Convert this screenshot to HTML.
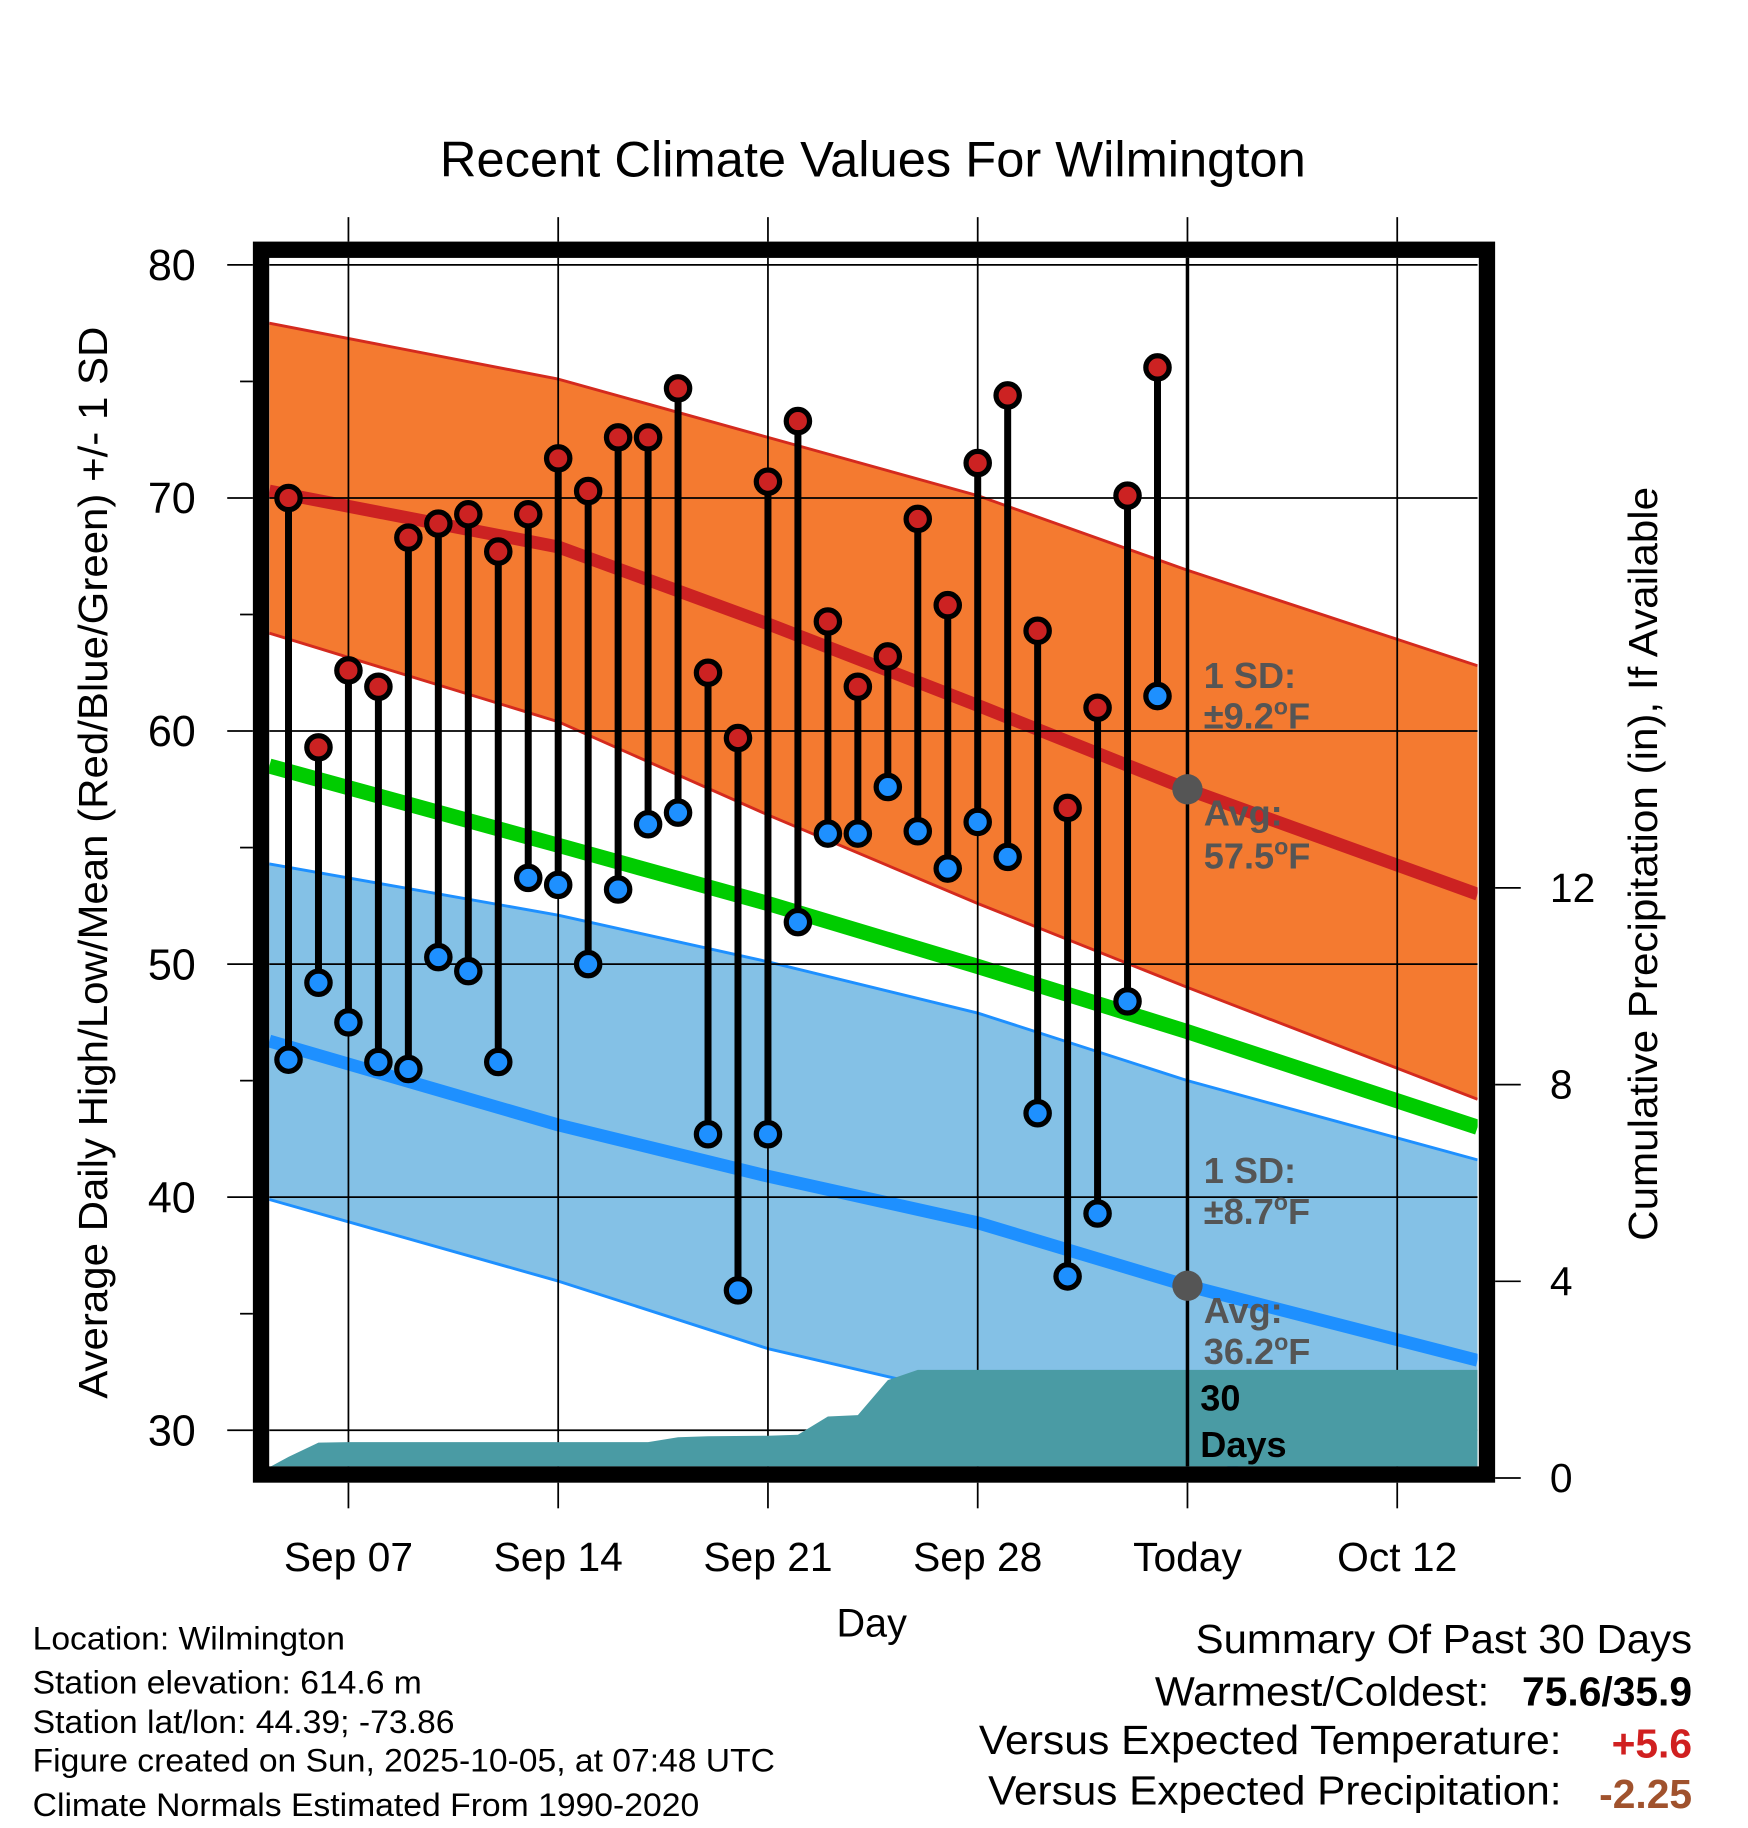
<!DOCTYPE html>
<html><head><meta charset="utf-8"><style>
html,body{margin:0;padding:0;background:#fff;}
svg{display:block;font-family:"Liberation Sans",sans-serif;}
</style></head><body>
<svg id="chart" width="1748" height="1828" viewBox="0 0 1500 1568" xmlns="http://www.w3.org/2000/svg">
<defs><clipPath id="pc"><rect x="231" y="221" width="1037" height="1037"/></clipPath></defs>
<text x="749" y="151" font-size="43" text-anchor="middle" textLength="743" lengthAdjust="spacingAndGlyphs">Recent Climate Values For Wilmington</text>
<g id="plot" clip-path="url(#pc)"></g>
<g id="axes"></g>
<rect x="224" y="214" width="1052" height="1051" fill="none" stroke="#000" stroke-width="14"/>
<g id="marks"></g>
<text transform="translate(92,740) rotate(-90)" font-size="35" text-anchor="middle" textLength="920" lengthAdjust="spacingAndGlyphs">Average Daily High/Low/Mean (Red/Blue/Green) +/- 1 SD</text>
<text transform="translate(1422,741) rotate(-90)" font-size="35" text-anchor="middle" textLength="647" lengthAdjust="spacingAndGlyphs">Cumulative Precipitation (in), If Available</text>
<text x="748" y="1404" font-size="34" text-anchor="middle">Day</text>
<g font-size="31" font-weight="bold" fill="#555">
<text x="1033" y="590">1 SD:</text><text x="1033" y="625">±9.2<tspan font-size="20" dy="-12">o</tspan><tspan dy="12">F</tspan></text>
<text x="1033" y="708">Avg:</text><text x="1033" y="745">57.5<tspan font-size="20" dy="-12">o</tspan><tspan dy="12">F</tspan></text>
</g>
<g font-size="31" font-weight="bold" fill="#555">
<text x="1033" y="1015">1 SD:</text><text x="1033" y="1050">±8.7<tspan font-size="20" dy="-12">o</tspan><tspan dy="12">F</tspan></text>
<text x="1033" y="1135">Avg:</text><text x="1033" y="1170">36.2<tspan font-size="20" dy="-12">o</tspan><tspan dy="12">F</tspan></text>
</g>
<g font-size="31" font-weight="bold" fill="#000">
<text x="1030" y="1210">30</text><text x="1030" y="1250">Days</text>
</g>
<g font-size="28">
<text x="28" y="1415" textLength="268" lengthAdjust="spacingAndGlyphs">Location: Wilmington</text>
<text x="28" y="1453" textLength="334" lengthAdjust="spacingAndGlyphs">Station elevation: 614.6 m</text>
<text x="28" y="1487" textLength="362" lengthAdjust="spacingAndGlyphs">Station lat/lon: 44.39; -73.86</text>
<text x="28" y="1520" textLength="637" lengthAdjust="spacingAndGlyphs">Figure created on Sun, 2025-10-05, at 07:48 UTC</text>
<text x="28" y="1558" textLength="572" lengthAdjust="spacingAndGlyphs">Climate Normals Estimated From 1990-2020</text>
</g>
<g font-size="35">
<text x="1026" y="1418" textLength="426" lengthAdjust="spacingAndGlyphs">Summary Of Past 30 Days</text>
<text x="991" y="1463" textLength="287" lengthAdjust="spacingAndGlyphs">Warmest/Coldest:</text>
<text x="1452" y="1463" text-anchor="end" font-weight="bold">75.6/35.9</text>
<text x="840" y="1505" textLength="500" lengthAdjust="spacingAndGlyphs">Versus Expected Temperature:</text>
<text x="1452" y="1508" text-anchor="end" font-weight="bold" fill="#d02020">+5.6</text>
<text x="848" y="1548" textLength="492" lengthAdjust="spacingAndGlyphs">Versus Expected Precipitation:</text>
<text x="1452" y="1551" text-anchor="end" font-weight="bold" fill="#a0522d">-2.25</text>
</g>
</svg>
<script>
const obsDays=[5,6,7,8,9,10,11,12,13,14,15,16,17,18,19,20,21,22,23,24,25,26,27,28,29,30,31,32,33,34];
const highs=[70.0,59.3,62.6,61.9,68.3,68.9,69.3,67.7,69.3,71.7,70.3,72.6,72.6,74.7,62.5,59.7,70.7,73.3,64.7,61.9,63.2,69.1,65.4,71.5,74.4,64.3,56.7,61.0,70.1,75.6];
const lows=[45.9,49.2,47.5,45.8,45.5,50.3,49.7,45.8,53.7,53.4,50.0,53.2,56.0,56.5,42.7,36.0,42.7,51.8,55.6,55.6,57.6,55.7,54.1,56.1,54.6,43.6,36.6,39.3,48.4,61.5];
const normDays=[4.36,14,21,28,35,44.68];
const highUpper=[77.5,75.1,72.6,70.1,66.9,62.8];
const highMean=[70.3,67.9,64.6,61.1,57.5,53.0];
const highLower=[64.2,60.4,56.4,52.6,49.0,44.2];
const avgMean=[58.5,55.1,52.6,49.9,47.1,43.0];
const lowUpper=[54.3,52.1,50.1,47.9,45.0,41.6];
const lowMean=[46.7,43.1,40.9,38.9,36.2,33.0];
const lowLower=[39.9,36.4,33.5,31.4,29.0,25.5];
const precipDays=[4,5,6,7,17,18,19,21,22,23,24,25,26,44.68];
const precipCum=[0.1,0.43,0.72,0.73,0.73,0.83,0.85,0.86,0.88,1.25,1.28,1.99,2.2,2.2];
const xTickDays=[7,14,21,28,35,42];
const xTickLabels=["Sep 07","Sep 14","Sep 21","Sep 28","Today","Oct 12"];
const yTicks=[30,40,50,60,70,80];
const y2Ticks=[0,4,8,12];
const todayDay=35, todayHigh=57.5, todayLow=36.2;

const NS="http://www.w3.org/2000/svg";
const X=d=>299+(d-7)*25.714;
const Y=v=>227+(80-v)*20;
const YP=p=>1268-p*42.2;
function mk(parent,tag,attrs){const e=document.createElementNS(NS,tag);for(const k in attrs)e.setAttribute(k,attrs[k]);parent.appendChild(e);return e;}
const plot=document.getElementById('plot'),axes=document.getElementById('axes'),marks=document.getElementById('marks');
function band(up,lo,fill,name){let d='M'+normDays.map((t,i)=>X(t)+','+Y(up[i])).join('L');d+='L'+normDays.slice().reverse().map((t,i)=>X(t)+','+Y(lo[lo.length-1-i])).join('L')+'Z';
 const p=mk(plot,'path',{d:d,fill:fill});}
function line(vals,color,w,name){const p=mk(plot,'path',{d:'M'+normDays.map((t,i)=>X(t)+','+Y(vals[i])).join('L'),fill:'none',stroke:color,'stroke-width':w,'stroke-linejoin':'round'});}
band(highUpper,highLower,'#f47a30','high-sd-band');
line(highUpper,'#d42a1e',2.5,'high-sd-upper');line(highLower,'#d42a1e',2.5,'high-sd-lower');
band(lowUpper,lowLower,'#84c1e6','low-sd-band');
line(lowUpper,'#1e90ff',2.5,'low-sd-upper');line(lowLower,'#1e90ff',2.5,'low-sd-lower');
line(highMean,'#cc2222',11,'normal-high-line');
line(avgMean,'#00cc00',13,'normal-mean-line');
line(lowMean,'#1e90ff',11,'normal-low-line');
yTicks.forEach(v=>{const l=mk(plot,'line',{x1:231,x2:1268,y1:Y(v),y2:Y(v),stroke:'#000','stroke-width':1.5});});
xTickDays.forEach(d=>{const l=mk(plot,'line',{x1:X(d),x2:X(d),y1:221,y2:1258,stroke:'#000','stroke-width':1.5});});
{let d='M'+X(precipDays[0])+','+YP(0)+'L'+precipDays.map((t,i)=>X(t)+','+YP(precipCum[i])).join('L')+'L'+X(precipDays[precipDays.length-1])+','+YP(0)+'Z';
 const p=mk(plot,'path',{d:d,fill:'#4a9ba4'});}
{const l=mk(plot,'line',{x1:X(todayDay),x2:X(todayDay),y1:221,y2:1258,stroke:'#000','stroke-width':3});}
yTicks.forEach(v=>{const l=mk(axes,'line',{x1:195,x2:217,y1:Y(v),y2:Y(v),stroke:'#000','stroke-width':1.5});
 const t=mk(axes,'text',{x:168,y:Y(v)+13,'font-size':37,'text-anchor':'end'});t.textContent=v;});
for(let v=35;v<80;v+=10){const l=mk(axes,'line',{x1:206,x2:217,y1:Y(v),y2:Y(v),stroke:'#000','stroke-width':1.5});}
y2Ticks.forEach(p=>{const l=mk(axes,'line',{x1:1283,x2:1305,y1:YP(p),y2:YP(p),stroke:'#000','stroke-width':1.5});
 const t=mk(axes,'text',{x:1330,y:YP(p)+12,'font-size':35});t.textContent=p;});
xTickDays.forEach((d,i)=>{const l=mk(axes,'line',{x1:X(d),x2:X(d),y1:186,y2:207,stroke:'#000','stroke-width':1.5});
 const l2=mk(axes,'line',{x1:X(d),x2:X(d),y1:1272,y2:1294,stroke:'#000','stroke-width':1.5});
 const t=mk(axes,'text',{x:X(d),y:1348,'font-size':35,'text-anchor':'middle'});t.textContent=xTickLabels[i];});
obsDays.forEach((d,i)=>{const x=X(d);
 const s=mk(marks,'line',{x1:x,x2:x,y1:Y(highs[i]),y2:Y(lows[i]),stroke:'#000','stroke-width':6});});
obsDays.forEach((d,i)=>{const x=X(d);
 const h=mk(marks,'circle',{cx:x,cy:Y(highs[i]),r:10,fill:'#cc2222',stroke:'#000','stroke-width':4.5});
 const lo=mk(marks,'circle',{cx:x,cy:Y(lows[i]),r:10,fill:'#1e90ff',stroke:'#000','stroke-width':4.5});});
{const a=mk(marks,'circle',{cx:X(todayDay),cy:Y(todayHigh),r:13,fill:'#555'});
 const b=mk(marks,'circle',{cx:X(todayDay),cy:Y(todayLow),r:13,fill:'#555'});}
</script>
</body></html>
